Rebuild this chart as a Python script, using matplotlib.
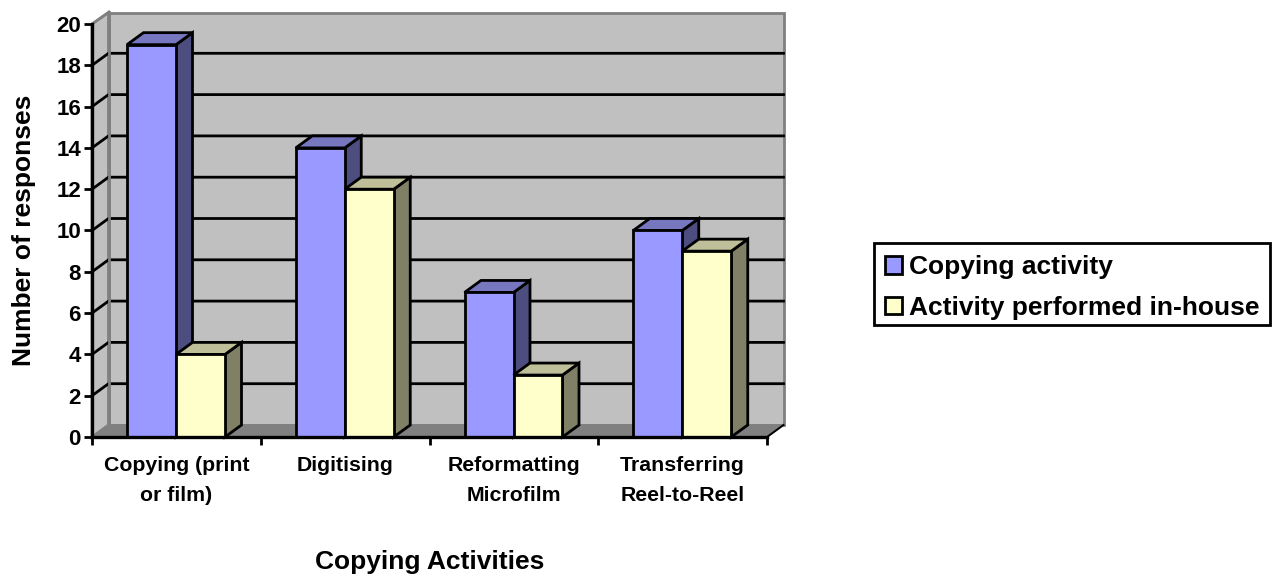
import numpy as np
import matplotlib
matplotlib.use('Agg')
import matplotlib.pyplot as plt
from matplotlib.patches import Polygon, Patch, Rectangle

plt.rcParams['font.family'] = ['Liberation Sans', 'DejaVu Sans']
plt.rcParams['font.weight'] = 'bold'

categories = ['Copying (print\nor film)', 'Digitising', 'Reformatting\nMicrofilm', 'Transferring\nReel-to-Reel']
series_names = ['Copying activity', 'Activity performed in-house']
copying = [19, 14, 7, 10]
in_house = [4, 12, 3, 9]
yticks = list(range(0, 21, 2))

W, H = 1274, 575
fig = plt.figure(figsize=(W / 100, H / 100), dpi=100)
ax = fig.add_axes([92 / W, (H - 437) / H, 675 / W, 413 / H])
ax.set_xlim(0, 4)
ax.set_ylim(0, 20)

# depth of the fake 3d box, in data units
dx = 16.5 / (675 / 4)
dy = 12 / (413 / 20)
lw = 2.0


def poly(pts, fc, ec='black', z=2, lw=lw):
    ax.add_patch(Polygon(pts, closed=True, facecolor=fc, edgecolor=ec, linewidth=lw,
                         zorder=z, clip_on=False, joinstyle='miter'))


def bar3d(x0, w, h, front, top, side, z):
    poly([(x0 + w, 0), (x0 + w + dx, dy), (x0 + w + dx, h + dy), (x0 + w, h)], side, z=z)
    poly([(x0, h), (x0 + dx, h + dy), (x0 + w + dx, h + dy), (x0 + w, h)], top, z=z)
    poly([(x0, 0), (x0 + w, 0), (x0 + w, h), (x0, h)], front, z=z + 0.1)


# walls and floor
poly([(dx, dy), (4 + dx, dy), (4 + dx, 20 + dy - 0.03), (dx, 20 + dy - 0.03)], '#c0c0c0', ec='#808080', z=1, lw=2)
poly([(0, 0), (dx, dy), (dx, 20 + dy - 0.03), (0, 20)], '#c0c0c0', ec='#808080', z=1, lw=2)
poly([(0, 0), (dx, dy), (4 + dx, dy), (4, 0)], '#808080', ec='#808080', z=1.1, lw=1)

for v in yticks[1:-1]:
    ax.plot([0, dx, 4 + dx], [v, v + dy, v + dy], color='black', lw=lw, zorder=1.5, clip_on=False)
ax.plot([dx, dx], [dy, 20 + dy], color='#808080', lw=2, zorder=1.6, clip_on=False)
ax.plot([4, 4 + dx], [0, dy], color='black', lw=1.4, zorder=1.6, clip_on=False)
ax.plot([0, dx], [20, 20 + dy], color='#808080', lw=1.6, zorder=1.6, clip_on=False)

bar_off = 35 / (675 / 4)
bar_w = 49 / (675 / 4)
for i in range(len(categories)):
    z = 3 + i
    bar3d(i + bar_off, bar_w, copying[i], '#9999ff', '#7777c0', '#4d4d80', z)
    bar3d(i + bar_off + bar_w, bar_w, in_house[i], '#ffffcc', '#bfbf99', '#808066', z + 0.3)

ax.patch.set_visible(False)
for s in ['top', 'right']:
    ax.spines[s].set_visible(False)
for s in ['left', 'bottom']:
    ax.spines[s].set_linewidth(2.4)
    ax.spines[s].set_zorder(10)

ax.set_yticks(yticks)
ax.set_xticks(range(5))
ax.set_xticklabels([])
ax.tick_params(axis='y', length=6, width=2, labelsize=16, pad=2)
ax.tick_params(axis='x', length=6, width=2)
for i, c in enumerate(categories):
    ax.annotate(c, (i + 0.5, 0), xytext=(0, -14), textcoords='offset points', ha='center', va='top',
                fontsize=15.3, linespacing=1.7)

fig.text(430 / W, 1 - 562 / H, 'Copying Activities', ha='center', va='center', fontsize=19)
fig.text(24 / W, 1 - 230 / H, 'Number of responses', rotation=90, ha='center', va='center', fontsize=19)

# legend box drawn apart so the entries can sit a bit low in it, as in the original
fig.add_artist(Rectangle((874 / W, 1 - 325 / H), 396 / W, 82 / H, transform=fig.transFigure,
                         facecolor='white', edgecolor='black', linewidth=2))
handles = [Patch(facecolor='#9999ff', edgecolor='black', linewidth=2),
           Patch(facecolor='#ffffcc', edgecolor='black', linewidth=2)]
leg = fig.legend(handles, series_names, loc='center left', bbox_to_anchor=(876 / W, 1 - 287.5 / H),
                 fontsize=19, frameon=False,
                 handlelength=0.65, handleheight=0.65, handletextpad=0.25, labelspacing=0.62,
                 borderpad=0.35, borderaxespad=0)

fig.savefig('out.png', dpi=100)
